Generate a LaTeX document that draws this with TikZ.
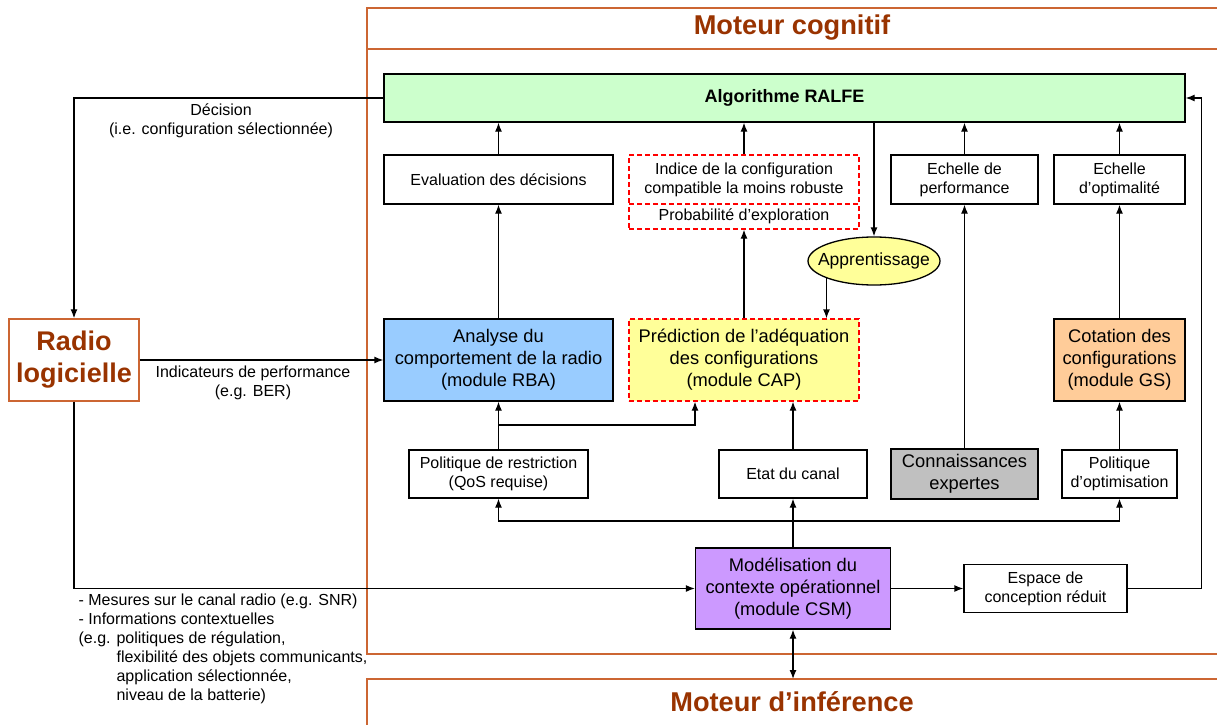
\documentclass[tikz,border=0pt]{standalone}
\usepackage{fontspec}
\setmainfont{Liberation Sans}
\usetikzlibrary{arrows.meta,shapes.geometric}
\definecolor{verde}{HTML}{CCFFCC}
\definecolor{azul}{HTML}{99CCFF}
\definecolor{amarelo}{HTML}{FFFF99}
\definecolor{laranja}{HTML}{FFCC99}
\definecolor{roxo}{HTML}{CC99FF}
\definecolor{cinza}{HTML}{C0C0C0}
\definecolor{marrom}{HTML}{993300}
\definecolor{borda}{HTML}{CC6633}
\begin{document}
\begin{tikzpicture}[x=1pt,y=-1pt,line width=1.3pt,
	seta/.style={-{Latex[length=9pt,width=7pt]}},
	setadupla/.style={{Latex[length=9pt,width=7pt]}-{Latex[length=9pt,width=7pt]}},
	moldura/.style={draw=borda,line width=1.4pt},
	caixa/.style={draw,align=center,inner sep=1pt,font=\fontsize{16}{19}\selectfont},
	modulo/.style={caixa,font=\fontsize{18.3}{22}\selectfont},
	tracejada/.style={caixa,draw=red,dashed,dash pattern=on 5pt off 3pt},
	titulo/.style={text=marrom,font=\fontsize{27.2}{30}\bfseries\selectfont},
	rotulo/.style={align=center,font=\fontsize{16}{19}\selectfont}]
	\useasboundingbox (0,0) rectangle (1217,725);
	
	% Desenhar os quadros dos motores
	\draw[moldura] (1217,8) -- (367,8) -- (367,654) -- (1217,654);
	\draw[moldura] (367,49) -- (1217,49);
	\draw[moldura] (1217,679) -- (367,679) -- (367,725);
	\node[titulo] (cognitif) at (792,28) {Moteur cognitif};
	\node[titulo] (inference) at (792,702) {Moteur d’inférence};
	
	% Radio logicielle
	\node[draw=borda,line width=1.4pt,minimum width=130,minimum height=82,align=center,
		text=marrom,font=\fontsize{27}{32}\bfseries\selectfont] (radio) at (74,360) {Radio\\logicielle};
	
	% Algorithme RALFE
	\node[caixa,fill=verde,minimum width=801,minimum height=48,font=\fontsize{18}{21}\bfseries\selectfont] (ralfe) at (784.5,98) {Algorithme RALFE};
	
	% Caixas do meio
	\node[caixa,minimum width=229,minimum height=49] (eval) at (498.5,179.5) {Evaluation des décisions};
	\node[tracejada,minimum width=230,minimum height=49] (indice) at (744,179.5) {Indice de la configuration\\compatible la moins robuste};
	\node[tracejada,minimum width=230,minimum height=25] (proba) at (744,216.5) {Probabilité d’exploration};
	\node[caixa,minimum width=147,minimum height=49] (echperf) at (964.5,179.5) {Echelle de\\performance};
	\node[caixa,minimum width=131,minimum height=49] (echopt) at (1119.5,179.5) {Echelle\\d’optimalité};
	\node[ellipse,draw,fill=amarelo,minimum width=132,minimum height=48,inner sep=0pt,
		label={[font=\fontsize{17.5}{21}\selectfont]center:Apprentissage}] (appr) at (874,261) {};
	
	% Modulos
	\node[modulo,fill=azul,minimum width=229,minimum height=82] (rba) at (498.5,360) {Analyse du\\comportement de la radio\\(module RBA)};
	\node[modulo,fill=amarelo,draw=red,dashed,dash pattern=on 5pt off 3pt,minimum width=230,minimum height=82] (cap) at (744,360) {Prédiction de l’adéquation\\des configurations\\(module CAP)};
	\node[modulo,fill=laranja,minimum width=131,minimum height=82] (gs) at (1119.5,360) {Cotation des\\configurations\\(module GS)};
	
	% Caixas de baixo
	\node[caixa,minimum width=179,minimum height=48] (polrest) at (498.5,474) {Politique de restriction\\(QoS requise)};
	\node[caixa,minimum width=148,minimum height=48] (etat) at (793,474) {Etat du canal};
	\node[modulo,fill=cinza,minimum width=147,minimum height=50] (conn) at (964.5,474) {Connaissances\\expertes};
	\node[caixa,minimum width=115,minimum height=48] (polopt) at (1119.5,474) {Politique\\d’optimisation};
	\node[modulo,fill=roxo,minimum width=195,minimum height=81] (csm) at (793,588.5) {Modélisation du\\contexte opérationnel\\(module CSM)};
	\node[caixa,minimum width=163,minimum height=48] (espace) at (1045.5,588.5) {Espace de\\conception réduit};
	
	% Setas para o algoritme
	\draw[seta] (eval.north) -- (ralfe.south -| eval.north);
	\draw[seta] (indice.north) -- (ralfe.south -| indice.north);
	\draw[seta] (echperf.north) -- (ralfe.south -| echperf.north);
	\draw[seta] (echopt.north) -- (ralfe.south -| echopt.north);
	\draw[seta] (ralfe.south -| appr.north) -- (appr.north);
	\draw[seta] (appr.200) -- (appr.200 |- cap.north);
	
	% Setas dos modulos
	\draw[seta] (rba.north) -- (eval.south);
	\draw[seta] (cap.north) -- (proba.south);
	\draw[seta] (conn.north) -- (echperf.south);
	\draw[seta] (gs.north) -- (echopt.south);
	
	% Setas de baixo
	\coordinate (ramo) at (498.5,425);
	\draw[seta] (polrest.north) -- (rba.south);
	\draw[seta] (ramo) -| ([xshift=-49pt]cap.south);
	\draw[seta] (etat.north) -- (cap.south -| etat.north);
	\draw[seta] (polopt.north) -- (gs.south);
	
	% Barramento do CSM
	\coordinate (bus) at (793,521);
	\draw (csm.north) -- (bus);
	\draw[seta] (bus) -- (etat.south);
	\draw[seta] (bus) -| (polrest.south);
	\draw[seta] (bus) -| (polopt.south);
	\draw[seta] (csm.east) -- (espace.west);
	\draw[seta] (espace.east) -- ++(74,0) |- (ralfe.east);
	\coordinate (infer) at (793,679);
	\draw[setadupla] (csm.south) -- (infer);
	
	% Ligacoes com a radio
	\draw[seta] (ralfe.west) -| (radio.north);
	\node[rotulo] (decision) at (221,121) {Décision\\(i.e. configuration sélectionnée)};
	\draw[seta] (radio.east) -- (rba.west);
	\node[rotulo] (indic) at (253,383) {Indicateurs de performance\\(e.g. BER)};
	\draw[seta] (radio.south) |- (csm.west);
	\node[rotulo,align=left,anchor=north west,inner sep=0pt] (mesures) at (78,593) {- Mesures sur le canal radio (e.g. SNR)\\- Informations contextuelles\\(e.g. politiques de régulation,\\\phantom{(e.g. }flexibilité des objets communicants,\\\phantom{(e.g. }application sélectionnée,\\\phantom{(e.g. }niveau de la batterie)};
	
\end{tikzpicture}
\end{document}
